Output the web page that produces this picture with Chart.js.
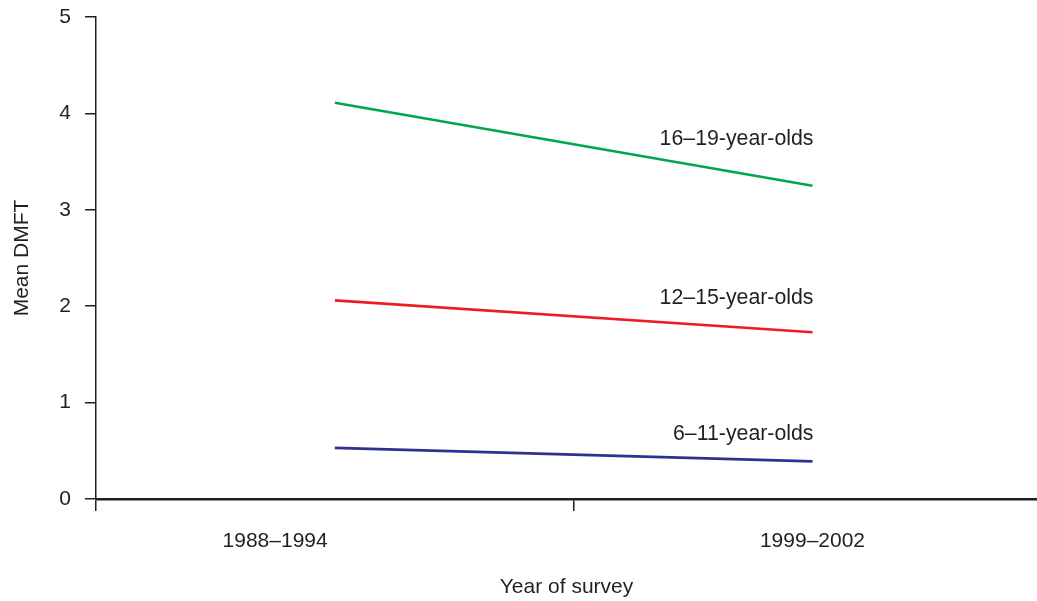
<!DOCTYPE html>
<html>
<head>
<meta charset="utf-8">
<style>
  html, body { margin: 0; padding: 0; background: #ffffff; }
  #wrap { position: relative; width: 1037px; height: 601px; }
</style>
<script src="https://cdn.jsdelivr.net/npm/chart.js@4/dist/chart.umd.min.js"></script>
</head>
<body>
<div id="wrap"><canvas id="c" width="1037" height="601"></canvas></div>
<script>
// ---- data ----
const categories = ['1988–1994', '1999–2002'];
const seriesNames = ['16–19-year-olds', '12–15-year-olds', '6–11-year-olds'];
const olds16to19 = [4.11, 3.25];
const olds12to15 = [2.06, 1.73];
const olds6to11 = [0.53, 0.39];
const yTicks = [0, 1, 2, 3, 4, 5];

// ---- styling ----
const INK = '#231f20';
const FONT = "'Liberation Sans', Arial, sans-serif";
const colors = ['#00a651', '#ed1c24', '#2e3192'];
const labelRise = [41, 28, 21];          // px above the line end for each annotation
const boundaryTicks = [0.5, 1.5];        // tick marks between categories
const categoryLabelPos = [0.875, 2.0];   // where category names are printed

const seriesValues = [olds16to19, olds12to15, olds6to11];
const datasets = seriesValues.map((vals, i) => ({
  label: seriesNames[i],
  data: vals.map((v, j) => ({ x: j + 1, y: v })),
  borderColor: colors[i],
  backgroundColor: colors[i],
  borderWidth: 2.6,
  pointRadius: 0,
  tension: 0,
  fill: false
}));

const lineLabels = {
  id: 'lineLabels',
  afterDatasetsDraw(chart) {
    const { ctx, scales: { x, y } } = chart;
    ctx.save();
    ctx.font = `21.3px ${FONT}`;
    ctx.fillStyle = INK;
    ctx.textAlign = 'right';
    ctx.textBaseline = 'alphabetic';
    seriesValues.forEach((vals, i) => {
      const last = vals.length - 1;
      const px = x.getPixelForValue(last + 1) + 1;
      const py = y.getPixelForValue(vals[last]) - labelRise[i];
      ctx.fillText(seriesNames[i], px, py);
    });
    ctx.restore();
  }
};

new Chart(document.getElementById('c'), {
  type: 'line',
  data: { datasets },
  options: {
    responsive: false,
    animation: false,
    events: [],
    layout: { padding: { top: 17, right: 0, left: 0, bottom: 0 } },
    plugins: { legend: { display: false }, tooltip: { enabled: false } },
    scales: {
      x: {
        type: 'linear',
        min: 0.5,
        max: 2.47,
        afterBuildTicks: (s) => {
          s.ticks = boundaryTicks.concat(categoryLabelPos)
            .sort((a, b) => a - b)
            .map(v => ({ value: v }));
        },
        afterFit: (s) => { s.height = 102; s.paddingLeft = 0; s.paddingRight = 0; },
        ticks: {
          autoSkip: false,
          maxRotation: 0,
          padding: 18,
          color: INK,
          font: { family: FONT, size: 21 },
          callback: (v) => {
            const k = categoryLabelPos.indexOf(v);
            return k >= 0 ? categories[k] : '';
          }
        },
        grid: {
          drawOnChartArea: false,
          drawTicks: true,
          tickLength: 12,
          lineWidth: 1.5,
          tickColor: (c) => (c.tick && boundaryTicks.includes(c.tick.value)) ? INK : 'rgba(0,0,0,0)'
        },
        border: { display: true, color: INK, width: 2.4 },
        title: {
          display: true,
          text: 'Year of survey',
          color: INK,
          font: { family: FONT, size: 21 },
          padding: { top: 0, bottom: 1 }
        }
      },
      y: {
        type: 'linear',
        min: 0,
        max: 5,
        afterBuildTicks: (s) => { s.ticks = yTicks.map(v => ({ value: v })); },
        afterFit: (s) => { s.width = 96; s.paddingTop = 0; s.paddingBottom = 0; },
        ticks: {
          padding: 14,
          color: INK,
          font: { family: FONT, size: 21 }
        },
        grid: {
          drawOnChartArea: false,
          drawTicks: true,
          tickLength: 11,
          lineWidth: 1.5,
          tickColor: INK
        },
        border: { display: true, color: INK, width: 1.5 },
        title: {
          display: true,
          text: 'Mean DMFT',
          color: INK,
          font: { family: FONT, size: 21 },
          padding: { top: 10, bottom: 0 }
        }
      }
    }
  },
  plugins: [lineLabels]
});
</script>
</body>
</html>
